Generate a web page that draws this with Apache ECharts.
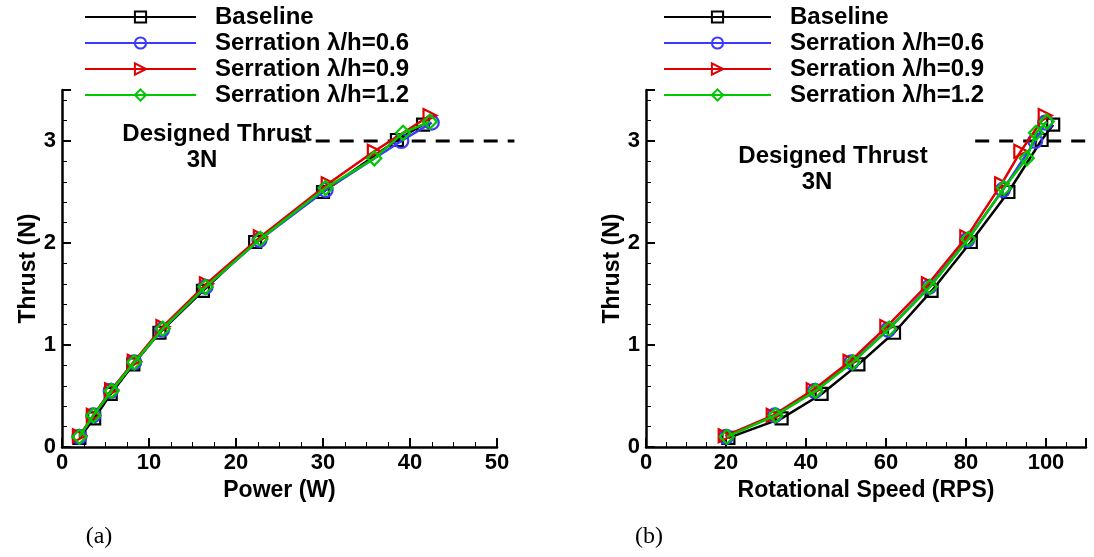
<!DOCTYPE html>
<html>
<head>
<meta charset="utf-8">
<script src="https://cdn.jsdelivr.net/npm/echarts@6/dist/echarts.min.js"></script>
<style>
html,body{margin:0;padding:0;background:#fff;}
#chart{width:1094px;height:557px;}
</style>
</head>
<body>
<div id="chart"></div>
<script>
// ---- data ----
const seriesNames = ['Baseline', 'Serration \u03bb/h=0.6', 'Serration \u03bb/h=0.9', 'Serration \u03bb/h=1.2'];

const thrustBase = [0.09, 0.28, 0.52, 0.81, 1.12, 1.53, 2.01, 2.50, 3.01, 3.16];
const powerBase  = [2.0, 3.7, 5.6, 8.2, 11.2, 16.2, 22.2, 30.0, 38.5, 41.5];
const rpsBase    = [20.6, 33.9, 43.9, 53.1, 62.0, 71.4, 81.2, 90.6, 98.9, 101.8];

const thrust06 = [0.10, 0.31, 0.55, 0.83, 1.15, 1.57, 2.03, 2.52, 3.00, 3.18];
const power06  = [2.0, 3.6, 5.6, 8.3, 11.5, 16.5, 22.7, 30.3, 39.0, 42.5];
const rps06    = [20.0, 32.2, 42.2, 51.4, 60.5, 70.8, 80.3, 89.2, 97.3, 99.8];

const thrust09 = [0.11, 0.31, 0.56, 0.84, 1.18, 1.60, 2.06, 2.58, 2.90, 3.25];
const power09  = [2.0, 3.6, 5.7, 8.3, 11.6, 16.6, 22.8, 30.6, 35.9, 42.3];
const rps09    = [19.8, 31.8, 41.8, 51.0, 60.2, 70.6, 80.2, 88.9, 93.7, 99.8];

const thrust12 = [0.10, 0.31, 0.55, 0.83, 1.16, 1.57, 2.04, 2.54, 2.83, 3.08, 3.19];
const power12  = [2.0, 3.6, 5.7, 8.3, 11.6, 16.5, 22.8, 30.3, 35.9, 39.2, 42.3];
const rps12    = [20.2, 32.4, 42.4, 51.7, 60.8, 71.0, 80.6, 89.5, 95.2, 97.5, 100.2];

const designThrust = 3;
const designPowerRange = [26.4, 52.0];
const designRpsRange = [82.3, 115];

const powerTicks = {min: 0, max: 50, interval: 10, lastLabel: 50};
const rpsTicks = {min: 0, max: 110, interval: 20, lastLabel: 100};
const thrustTicks = {min: 0, max: 3.5, interval: 1};

// ---- styles ----
const FONT = '"Liberation Sans", Arial, sans-serif';
const colors = ['#000000', '#3a3aff', '#e00000', '#00c800'];
const symbols = ['rect', 'circle', 'triangle', 'diamond'];
const symSizes = [12, 14, 13, 14];
const symRot = [0, 0, -90, 0];

const thrustSets = [thrustBase, thrust06, thrust09, thrust12];
const powerSets = [powerBase, power06, power09, power12];
const rpsSets = [rpsBase, rps06, rps09, rps12];

function zip(xs, ys) { return xs.map((x, i) => [x, ys[i]]); }

function mkSeries(i, xs, ys, gi) {
  return {
    name: seriesNames[i], type: 'line',
    xAxisIndex: gi, yAxisIndex: gi,
    data: zip(xs, ys),
    symbol: symbols[i], symbolSize: symSizes[i], symbolRotate: symRot[i],
    showAllSymbol: true,
    lineStyle: {color: colors[i], width: 2.5},
    itemStyle: {color: 'rgba(255,255,255,0)', borderColor: colors[i], borderWidth: 2.2},
    emphasis: {disabled: true},
    animation: false, z: 3 + i
  };
}

function dashed(range, gi) {
  return {
    type: 'custom', xAxisIndex: gi, yAxisIndex: gi, clip: false, silent: true,
    data: [[range[0], range[1], designThrust]],
    encode: {x: [0, 1], y: 2},
    renderItem: function (params, api) {
      const p0 = api.coord([api.value(0), api.value(2)]);
      const p1 = api.coord([api.value(1), api.value(2)]);
      return {type: 'line', shape: {x1: p0[0], y1: p0[1], x2: p1[0], y2: p1[1]},
        style: {stroke: '#000', lineWidth: 3, lineDash: [14, 10]}};
    },
    animation: false, z: 2
  };
}

function xAxis(gi, t, name) {
  return {
    type: 'value', gridIndex: gi, min: t.min, max: t.max, interval: t.interval,
    name: name, nameLocation: 'middle', nameGap: 29,
    nameTextStyle: {fontFamily: FONT, fontWeight: 'bold', fontSize: 23, color: '#000'},
    axisLine: {show: true, onZero: false, lineStyle: {color: '#000', width: 2.5}},
    axisTick: {show: true, inside: true, length: 9, lineStyle: {color: '#000', width: 2}},
    minorTick: {show: true, splitNumber: 4, length: 5, lineStyle: {color: '#000', width: 1}},
    axisLabel: {fontFamily: FONT, fontWeight: 'bold', fontSize: 22, color: '#000', margin: 5,
      formatter: v => (v <= t.lastLabel ? String(v) : '')},
    splitLine: {show: false}
  };
}

function yAxis(gi, t) {
  return {
    type: 'value', gridIndex: gi, min: t.min, max: t.max, interval: t.interval,
    name: 'Thrust (N)', nameLocation: 'middle', nameGap: 22, nameRotate: 90,
    nameTextStyle: {fontFamily: FONT, fontWeight: 'bold', fontSize: 23, color: '#000'},
    axisLine: {show: true, onZero: false, lineStyle: {color: '#000', width: 2.5}},
    axisTick: {show: true, inside: true, length: 9, lineStyle: {color: '#000', width: 2}},
    minorTick: {show: true, splitNumber: 5, length: 5, lineStyle: {color: '#000', width: 1}},
    axisLabel: {fontFamily: FONT, fontWeight: 'bold', fontSize: 22, color: '#000', margin: 6,
      formatter: v => (Math.abs(v - Math.round(v)) < 1e-9 ? String(Math.round(v)) : '')},
    splitLine: {show: false}
  };
}

function legend(left, w) {
  return {
    data: seriesNames, orient: 'vertical', left: left, top: 5, padding: 0,
    itemWidth: w, itemHeight: 14, itemGap: 2, selectedMode: false,
    textStyle: {fontFamily: FONT, fontWeight: 'bold', fontSize: 24, color: '#000',
      lineHeight: 24, padding: [0, 0, 0, 14]}
  };
}

const series = [];
for (let i = 0; i < 4; i++) series.push(mkSeries(i, powerSets[i], thrustSets[i], 0));
for (let i = 0; i < 4; i++) series.push(mkSeries(i, rpsSets[i], thrustSets[i], 1));
series.push(dashed(designPowerRange, 0));
series.push(dashed(designRpsRange, 1));

function txt(x, y, s, font, size, weight) {
  return {type: 'text', x: x, y: y, style: {text: s, fill: '#000', font: weight + ' ' + size + 'px ' + font,
    textAlign: 'center', textVerticalAlign: 'middle'}, z: 10};
}

const chart = echarts.init(document.getElementById('chart'), null, {renderer: 'canvas'});
chart.setOption({
  backgroundColor: '#fff',
  animation: false,
  grid: [
    {left: 62, top: 90, width: 435, height: 357, containLabel: false},
    {left: 646, top: 90, width: 440, height: 357, containLabel: false}
  ],
  xAxis: [xAxis(0, powerTicks, 'Power (W)'), xAxis(1, rpsTicks, 'Rotational Speed (RPS)')],
  yAxis: [yAxis(0, thrustTicks), yAxis(1, thrustTicks)],
  legend: [legend(84, 111), legend(663, 107)],
  series: series,
  graphic: [
    txt(217, 134, 'Designed Thrust', FONT, 24, 'bold'),
    txt(202, 160, '3N', FONT, 24, 'bold'),
    txt(833, 156, 'Designed Thrust', FONT, 24, 'bold'),
    txt(817, 182, '3N', FONT, 24, 'bold'),
    txt(99, 537, '(a)', '"Liberation Serif", "Times New Roman", serif', 24, 'normal'),
    txt(649, 537, '(b)', '"Liberation Serif", "Times New Roman", serif', 24, 'normal')
  ]
});
</script>
</body>
</html>
